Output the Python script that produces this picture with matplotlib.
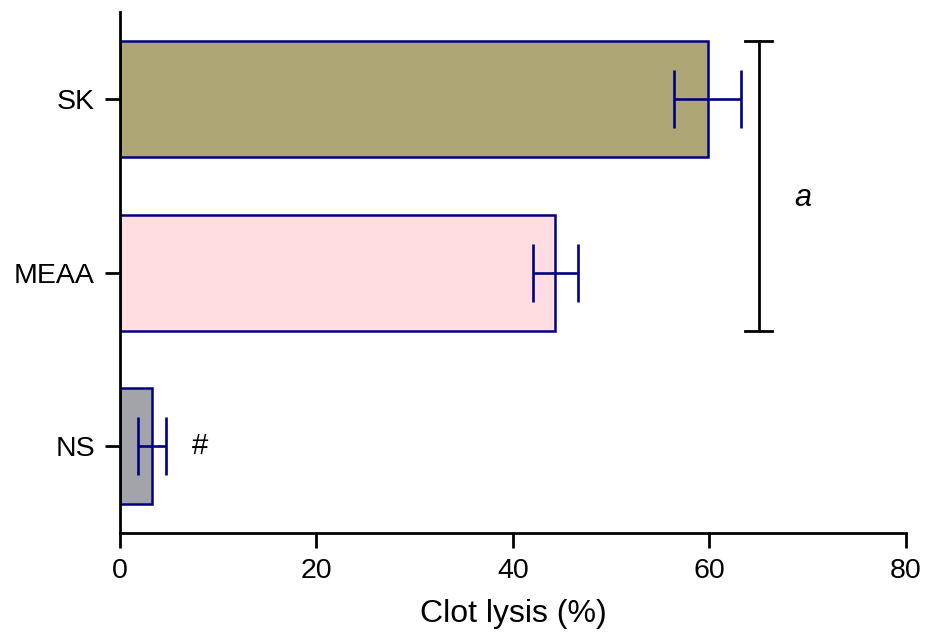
import matplotlib.pyplot as plt

# =========================
# DATA
# =========================
groups = ["NS", "MEAA", "SK"]
lysis = [3.3, 44.3, 59.8]
lysis_err = [1.4, 2.3, 3.4]
bar_colors = ["#a3a3aa", "#ffdde1", "#afa675"]

x_ticks = [0, 20, 40, 60, 80]

# =========================
# STYLE
# =========================
plt.rcParams["font.family"] = ["Liberation Sans", "DejaVu Sans"]
navy = "#000080"

fig = plt.figure(figsize=(9.36, 6.34), dpi=100)
ax = fig.add_axes([0.128, 0.159, 0.840, 0.822])

pos = list(range(len(groups)))
bar_h = 0.667
ax.barh(pos, lysis, height=bar_h, color=bar_colors, edgecolor=navy, linewidth=1.8)
ax.errorbar(lysis, pos, xerr=lysis_err, fmt="none", ecolor=navy,
            elinewidth=1.9, capsize=21, capthick=1.9)

# significance bracket between SK and MEAA
bx = 65
y_top = pos[2] + bar_h / 2
y_bot = pos[1] - bar_h / 2
ax.plot([bx, bx], [y_bot, y_top], color="black", lw=2)
ax.plot([bx - 1.35, bx + 1.35], [y_top, y_top], color="black", lw=2)
ax.plot([bx - 1.35, bx + 1.35], [y_bot, y_bot], color="black", lw=2)
ax.text(69.5, 1.43, "a", fontsize=22, style="italic", ha="center", va="center")
ax.text(8.2, pos[0], "#", fontsize=21, ha="center", va="center")

# =========================
# AXES
# =========================
ax.set_xlim(0, 80)
ax.set_ylim(-0.5, 2.5)
ax.set_xticks(x_ticks)
ax.set_yticks(pos)
ax.set_yticklabels(groups)
ax.spines["top"].set_visible(False)
ax.spines["right"].set_visible(False)
for s in ["left", "bottom"]:
    ax.spines[s].set_linewidth(2)
ax.tick_params(axis="both", direction="out", length=11, width=2,
               labelsize=20.5, pad=7)
ax.set_xlabel("Clot lysis (%)", fontsize=23, labelpad=11)

fig.savefig("out.png", dpi=100)
